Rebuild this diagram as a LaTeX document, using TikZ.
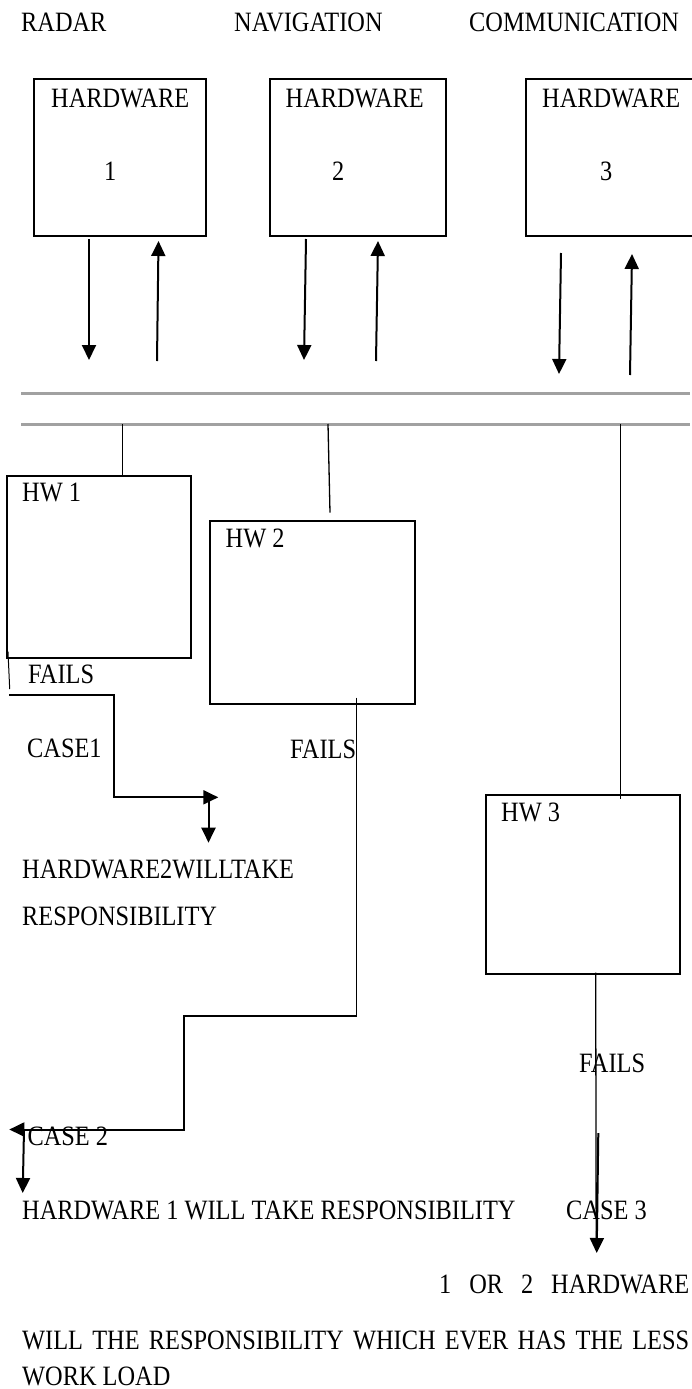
\documentclass[tikz,border=0pt]{standalone}
\usepackage{fontspec}
\setmainfont{Liberation Serif}[FakeStretch=0.87]
\usetikzlibrary{arrows.meta}
\begin{document}
\begin{tikzpicture}[x=1pt,y=-1pt,
  box/.style={draw=black,line width=2pt,inner sep=0pt},
  lbl/.style={anchor=base west,inner sep=0pt,font=\fontsize{28}{32}\selectfont},
  arr/.style={line width=2pt,-{Triangle[length=15pt,width=14pt]}},
  thin/.style={line width=1.3pt},
  thk/.style={line width=2pt},
  busline/.style={draw=black!37,line width=3pt}]
\useasboundingbox (0,0) rectangle (692,1389);
% headings
\node[lbl] (radar) at (21,32) {RADAR};
\node[lbl] (nav) at (234,32) {NAVIGATION};
\node[lbl] (comm) at (469,32) {COMMUNICATION};
% top boxes
\node[box,minimum width=171.6pt,minimum height=157pt] (top1) at (120.2,157.5) {};
\node[box,minimum width=176pt,minimum height=157pt] (top2) at (358,157.5) {};
\node[box,minimum width=170.4pt,minimum height=157pt] (top3) at (610.8,157.5) {};
\node[lbl] (h1) at (51,107) {HARDWARE};
\node[lbl] (n1) at (104,180) {1};
\node[lbl] (h2) at (285.5,107) {HARDWARE};
\node[lbl] (n2) at (332,180) {2};
\node[lbl] (h3) at (542,107) {HARDWARE};
\node[lbl] (n3) at (600,180) {3};
% arrows below top boxes
\coordinate (d1a) at (89,239); \coordinate (d1b) at (89,360);
\coordinate (u1a) at (157,361); \coordinate (u1b) at (158.5,241);
\coordinate (d2a) at (306,239); \coordinate (d2b) at (304,360);
\coordinate (u2a) at (376,361); \coordinate (u2b) at (378,241);
\coordinate (d3a) at (561,253); \coordinate (d3b) at (559,374);
\coordinate (u3a) at (630,375); \coordinate (u3b) at (632,254);
\draw[arr] (d1a) -- (d1b);
\draw[arr] (u1a) -- (u1b);
\draw[arr] (d2a) -- (d2b);
\draw[arr] (u2a) -- (u2b);
\draw[arr] (d3a) -- (d3b);
\draw[arr] (u3a) -- (u3b);
% bus
\coordinate (busAw) at (21,393.3); \coordinate (busAe) at (690,393.3);
\coordinate (busBw) at (21,424); \coordinate (busBe) at (690,424);
\draw[busline] (busAw) -- (busAe);
\draw[busline] (busBw) -- (busBe);
% lower boxes
\node[box,minimum width=184pt,minimum height=181.7pt] (hw1) at (99,566.85) {};
\node[box,minimum width=205pt,minimum height=183pt] (hw2) at (312.5,612.5) {};
\node[box,minimum width=194pt,minimum height=179pt] (hw3) at (583,884.5) {};
\node[lbl] (l1) at (22,501.7) {HW 1};
\node[lbl] (l2) at (225.5,547) {HW 2};
\node[lbl] (l3) at (501,821.7) {HW 3};
% bus drops
\coordinate (t1) at (122.7,424);
\coordinate (t2) at (328,424); \coordinate (t2e) at (330,512.7);
\coordinate (t3) at (620.5,424); \coordinate (t3e) at (620.5,799);
\draw[thin] (t1) -- (t1 |- hw1.north);
\draw[thin] (t2) -- (t2e);
\draw[thin] (t3) -- (t3e);
% case 1
\coordinate (c1a) at (8,651.7); \coordinate (c1b) at (9.7,689);
\coordinate (c1c) at (9,695.3); \coordinate (c1d) at (114,695.3);
\coordinate (c1e) at (114,797.3); \coordinate (c1f) at (218.3,797.3);
\coordinate (c1g) at (208.5,797.3); \coordinate (c1h) at (208.5,842.7);
\draw[line width=1pt] (c1a) -- (c1b);
\draw[arr] (c1c) -- (c1d) -- (c1e) -- (c1f);
\draw[arr] (c1g) -- (c1h);
\node[lbl] (f1) at (28,683) {FAILS};
\node[lbl] (case1) at (27,757) {CASE1};
\node[lbl] (r1a) at (22,878) {HARDWARE2WILLTAKE};
\node[lbl] (r1b) at (22,925) {RESPONSIBILITY};
% case 2
\coordinate (c2a) at (356.6,697.7); \coordinate (c2b) at (356.6,1016);
\coordinate (c2c) at (183.6,1016); \coordinate (c2d) at (183.6,1129.5);
\coordinate (c2e) at (9.3,1129.5);
\coordinate (c2f) at (24,1129.5); \coordinate (c2g) at (22.7,1193);
\draw[thin] (c2a) -- (c2b);
\draw[arr] (c2b) -- (c2c) -- (c2d) -- (c2e);
\draw[arr] (c2f) -- (c2g);
\node[lbl] (f2) at (290,758) {FAILS};
\node[lbl] (case2) at (27.4,1145) {CASE 2};
\node[lbl] (r2) at (22,1219) {HARDWARE 1 WILL TAKE RESPONSIBILITY};
% case 3
\coordinate (c3a) at (595.7,972.7); \coordinate (c3b) at (596.2,1240);
\coordinate (c3c) at (598.3,1133); \coordinate (c3d) at (596.7,1253);
\draw[thin] (c3a) -- (c3b);
\draw[arr] (c3c) -- (c3d);
\node[lbl] (f3) at (579,1072) {FAILS};
\node[lbl] (case3) at (566,1219) {CASE 3};
\node[lbl] (r3a) at (439,1293) {\makebox[250pt][s]{1 OR 2 HARDWARE}};
\node[lbl] (r3b) at (22,1349) {\makebox[667pt][s]{WILL THE RESPONSIBILITY WHICH EVER HAS THE LESS}};
\node[lbl] (r3c) at (22,1385) {WORK LOAD};
\end{tikzpicture}
\end{document}
